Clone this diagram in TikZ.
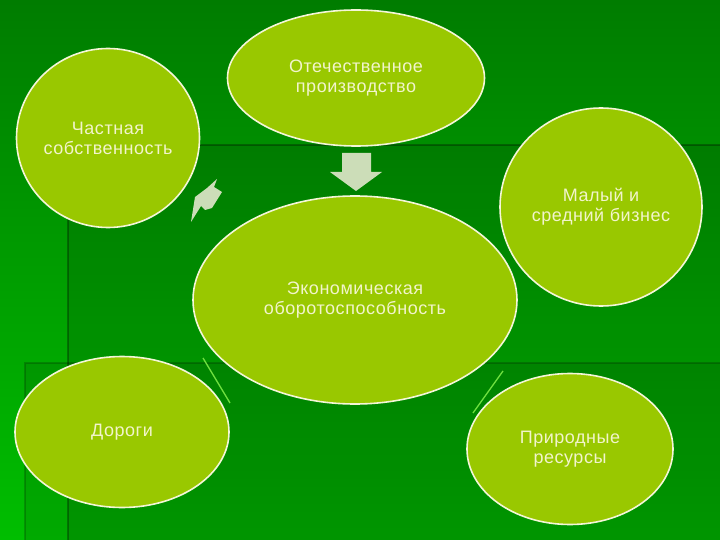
\documentclass[tikz,border=0pt]{standalone}
\usepackage{fontspec}
\setmainfont[LetterSpace=3]{Liberation Sans}
\usetikzlibrary{shapes.geometric}
\definecolor{bgtop}{HTML}{007C00}
\definecolor{bgbot}{HTML}{00BE00}
\definecolor{leaf}{HTML}{99C800}
\definecolor{rim}{HTML}{F4F6D8}
\definecolor{cream}{HTML}{F2F4CC}
\definecolor{pale}{HTML}{CCDDB8}
\definecolor{sprout}{HTML}{70E040}
\tikzset{
  blob/.style={ellipse, draw=rim, line width=1.6pt, fill=leaf, text=cream,
    align=center, inner sep=0pt, font=\fontsize{18}{20}\selectfont},
  chip/.style={fill=pale, draw=none},
  twig/.style={draw=sprout, line width=1.3pt}
}
\begin{document}
\begin{tikzpicture}[x=1pt,y=-1pt]
      \useasboundingbox (0,0) rectangle (720,540);
      \shade[top color=bgtop, bottom color=bgbot] (0,0) rectangle (720,540);
      \fill[black, opacity=0.12] (68,145) rectangle (720,540);
      \fill[black, opacity=0.10] (25,363) rectangle (720,540);
      \draw[black, opacity=0.3, line width=2.5pt] (720,145) -- (68,145) -- (68,540);
      \draw[black, opacity=0.2, line width=2.5pt] (720,363) -- (25,363) -- (25,540);
      \path
        (356,78) node[blob, minimum width=257, minimum height=136] (otech) {Отечественное\\производство}
        (108,138) node[blob, minimum width=183, minimum height=179] (chast) {Частная\\собственность}
        (601,207) node[blob, minimum width=202, minimum height=198] (maly) {Малый и\\средний бизнес}
        (355,300) node[blob, minimum width=324, minimum height=208] (econ) {Экономическая\\оборотоспособность}
        (122,432) node[blob, minimum width=214, minimum height=151] (dorogi) {Дороги}
        (570,449) node[blob, minimum width=206, minimum height=151] (prirod) {Природные\\ресурсы};
      \begin{scope}
        \fill[chip] (342,153) -- (371,153) -- (371,172) -- (382,172) -- (356,191)
          -- (330,172) -- (342,172) -- cycle;
        \fill[chip] (195,197) -- (207,188) -- (217,179) -- (214,187) -- (222,192)
          -- (212,208) -- (205,210) -- (201,206) -- (191,222) -- cycle;
        \coordinate (t1) at (203,358);
        \coordinate (t2) at (230,403);
        \coordinate (t3) at (503,371);
        \coordinate (t4) at (473,413);
        \draw[twig] (t1) to (t2);
        \draw[twig] (t3) to (t4);
      \end{scope}
    \end{tikzpicture}
\end{document}
